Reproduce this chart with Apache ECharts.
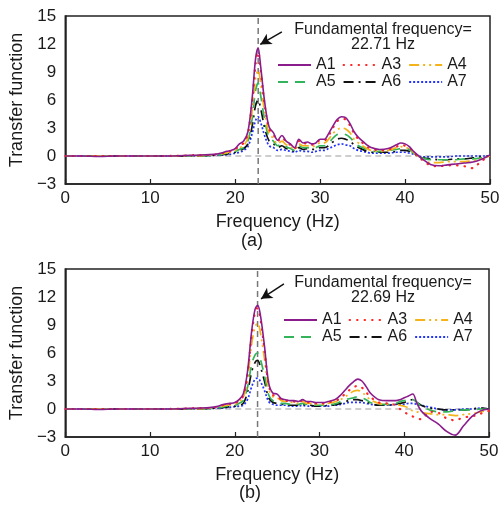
<!DOCTYPE html>
<html><head><meta charset="utf-8">
<script src="https://cdn.jsdelivr.net/npm/echarts@6/dist/echarts.min.js"></script>
<style>html,body{margin:0;padding:0;background:#fff}#c{width:503px;height:511px}</style>
</head><body><div id="c"></div>
<script>
const FREQ = [0,2,4,6,8,10,12,14,16,17,18,18.5,19,19.5,20,20.5,21,21.5,22,22.4,22.7,23,23.5,24,24.5,25,25.5,26,26.5,27,27.5,28,28.5,29,29.5,30,30.5,31,31.5,32,32.5,33,33.5,34,34.5,35,35.5,36,37,38,39,39.5,40,40.5,41,41.5,42,43,44,45,46,47,48,49,50];

// Chart (a)
const A1a = [0,0,-0.05,0,0,0,0,0.05,0.1,0.15,0.25,0.35,0.5,0.6,0.8,1.3,1.6,2.6,6.2,10.4,11.6,9.6,5.6,3.1,2.5,1.7,2.2,1.6,1.3,0.9,1.8,1.4,1.5,1.3,1.4,1.8,1.8,2.4,3.2,3.9,4.2,4.1,3.5,2.6,2.0,1.6,1.2,0.9,0.7,0.8,1.2,1.4,1.3,1.0,0.5,0.1,-0.3,-0.9,-1.05,-0.95,-0.85,-0.75,-0.65,-0.35,0.1];
const A3a = [0,0,0,0,0,0,0,0.05,0.1,0.1,0.2,0.3,0.45,0.5,0.7,1.1,1.4,2.4,5.8,9.8,11.1,9.2,5.3,2.9,2.3,1.6,2.0,1.5,1.2,0.8,1.6,1.3,1.4,1.2,1.3,1.7,1.7,2.2,3.0,3.7,4.0,3.9,3.3,2.4,1.8,1.4,1.0,0.8,0.6,0.7,1.0,1.2,1.1,0.9,0.4,0.0,-0.4,-1.0,-1.1,-1.0,-1.0,-1.1,-1.3,-0.5,-0.2];
const A4a = [0,0,0,0,0,0,0,0.05,0.05,0.1,0.2,0.25,0.35,0.45,0.6,0.9,1.1,2.0,4.8,8.3,9.2,7.8,4.5,2.4,1.9,1.3,1.6,1.2,1.0,0.7,1.3,1.1,1.1,1.0,1.1,1.4,1.4,1.8,2.4,2.8,3.0,2.9,2.5,1.8,1.4,1.1,0.8,0.6,0.5,0.6,0.9,1.0,0.9,0.8,0.4,0.0,-0.3,-0.7,-0.7,-0.6,-0.6,-0.6,-0.5,-0.3,0.0];
const A5a = [0,0,0,0,0,0,0,0,0.05,0.05,0.1,0.2,0.3,0.35,0.5,0.7,0.9,1.6,4.0,7.0,7.8,6.5,3.7,2.0,1.6,1.1,1.3,1.0,0.8,0.6,1.1,0.9,0.9,0.8,0.9,1.1,1.1,1.4,1.9,2.3,2.4,2.3,2.0,1.5,1.1,0.9,0.7,0.5,0.5,0.6,0.7,0.8,0.8,0.7,0.3,0.0,-0.2,-0.4,-0.4,-0.4,-0.4,-0.3,-0.3,-0.2,0.0];
const A6a = [0,0,0,0,0,0,0,0,0.05,0.05,0.1,0.15,0.2,0.3,0.4,0.6,0.8,1.3,3.2,5.4,6.0,5.1,2.9,1.6,1.3,0.9,1.1,0.8,0.7,0.5,0.9,0.7,0.8,0.7,0.7,0.9,0.9,1.1,1.5,1.8,1.9,1.8,1.6,1.2,0.9,0.7,0.5,0.4,0.4,0.4,0.5,0.6,0.6,0.5,0.3,0.0,-0.2,-0.3,-0.4,-0.4,-0.3,-0.3,-0.2,-0.1,0.0];
const A7a = [0,0,0,0,0,0,0,0,0,0.05,0.1,0.1,0.15,0.2,0.3,0.4,0.6,1.0,2.4,3.8,4.2,3.6,2.1,1.1,0.9,0.6,0.7,0.6,0.5,0.4,0.6,0.5,0.5,0.4,0.5,0.6,0.6,0.8,1.0,1.2,1.3,1.2,1.1,0.8,0.6,0.5,0.4,0.3,0.3,0.3,0.4,0.4,0.4,0.3,0.2,0.0,-0.1,-0.1,-0.1,-0.1,0.0,0.0,0.0,0.0,0.0];

// Chart (b)
const A1b = [0,0,-0.05,0,0,0,0,0.05,0.1,0.15,0.3,0.45,0.55,0.6,0.7,1.0,1.6,4.0,8.4,10.7,11.1,10.2,6.8,2.8,1.7,1.6,1.1,1.0,0.9,0.9,0.8,1.0,0.8,0.8,0.7,0.7,0.7,0.8,0.9,1.1,1.5,2.0,2.5,2.9,3.2,3.0,2.4,1.7,1.0,0.9,0.9,1.0,1.2,1.4,1.6,0.6,-0.2,-1.0,-1.6,-2.4,-2.8,-1.8,-0.8,-0.2,0.0];
const A3b = [0,0,0,0,0,0,0,0.05,0.1,0.1,0.25,0.4,0.5,0.55,0.6,0.9,1.4,3.7,8.0,10.4,10.8,9.8,6.4,2.6,1.5,1.4,1.0,0.9,0.8,0.8,0.7,0.9,0.7,0.7,0.6,0.6,0.6,0.7,0.8,0.9,1.2,1.6,2.0,2.3,2.5,2.3,1.8,1.3,0.7,0.6,0.4,0.0,-0.3,-0.6,-0.8,-1.0,-1.1,-0.3,-0.4,-1.0,-1.2,-0.9,-0.8,-0.5,-0.2];
const A4b = [0,0,0,0,0,0,0,0.05,0.05,0.1,0.2,0.3,0.4,0.45,0.5,0.8,1.2,3.2,7.0,8.8,9.2,8.3,5.4,2.2,1.3,1.2,0.9,0.8,0.7,0.7,0.6,0.8,0.6,0.6,0.5,0.5,0.5,0.6,0.7,0.8,1.0,1.3,1.6,1.9,2.0,1.8,1.4,1.0,0.6,0.5,0.5,0.4,0.3,0.1,-0.2,-0.3,-0.4,-0.5,-0.6,-0.6,-0.7,-0.6,-0.5,-0.3,-0.1];
const A5b = [0,0,0,0,0,0,0,0,0.05,0.05,0.15,0.2,0.3,0.35,0.4,0.6,0.9,2.3,4.8,5.8,6.0,5.4,3.6,1.5,0.9,0.8,0.6,0.6,0.5,0.5,0.5,0.6,0.5,0.5,0.4,0.4,0.4,0.5,0.5,0.6,0.8,1.0,1.1,1.2,1.3,1.2,1.0,0.7,0.5,0.5,0.6,0.8,0.9,1.0,1.0,0.7,0.3,-0.1,-0.3,-0.3,-0.2,-0.1,-0.1,0.0,0.0];
const A6b = [0,0,0,0,0,0,0,0,0.05,0.05,0.1,0.15,0.2,0.25,0.3,0.4,0.6,1.8,4.0,5.0,5.2,4.6,3.0,1.2,0.7,0.6,0.5,0.5,0.4,0.4,0.4,0.5,0.4,0.4,0.3,0.3,0.3,0.4,0.4,0.5,0.6,0.8,0.9,1.0,1.0,0.9,0.8,0.6,0.4,0.4,0.5,0.6,0.7,0.9,1.0,0.7,0.4,0.1,0.0,-0.1,-0.1,-0.1,0.0,0.1,0.0];
const A7b = [0,0,0,0,0,0,0,0,0,0.05,0.1,0.1,0.15,0.2,0.25,0.3,0.4,1.0,2.4,3.2,3.3,3.0,2.0,0.8,0.5,0.4,0.4,0.4,0.3,0.3,0.3,0.4,0.3,0.3,0.3,0.3,0.3,0.3,0.4,0.4,0.5,0.6,0.7,0.7,0.7,0.7,0.6,0.5,0.4,0.4,0.5,0.5,0.5,0.6,0.6,0.5,0.4,0.2,0.0,-0.1,-0.1,0.0,0.0,0.1,0.0];

const NAMES = ['A1','A3','A4','A5','A6','A7'];
const FUND = [22.71, 22.69];
const FUND_LABELS = ['22.71 Hz','22.69 Hz'];
const PANEL_LABELS = ['(a)','(b)'];

const DATA = [[A1a,A3a,A4a,A5a,A6a,A7a],[A1b,A3b,A4b,A5b,A6b,A7b]];
const STYLES = [
  {color:'#8B1C8C', type:'solid', width:1.6},
  {color:'#FF2626', type:[0.5,7], width:2.2, cap:'round'},
  {color:'#F5B31A', type:[10,4,2,4,2,4], width:1.7},
  {color:'#33B35A', type:[10,7], width:1.7},
  {color:'#111111', type:[10,5,2,5], width:1.7},
  {color:'#2233FF', type:[2,2], width:1.7}
];
const FONT = '"Liberation Sans", Arial, sans-serif';
const TXT = '#1a1a1a';

const grids = [
  {left:62, right:13, top:16, height:168},
  {left:60, right:14, top:269, height:168}
];
const arrows = [
  [[25.5,13.3],[22.95,11.95]],
  [[25.8,13.4],[23.1,11.8]]
];

const series = [];
for (let g=0; g<2; g++){
  series.push({type:'line', xAxisIndex:g, yAxisIndex:g, data:[[0,0],[50,0]], symbol:'none', silent:true,
    lineStyle:{color:'#bdbdbd', type:[6,4], width:1.5}, z:1});
  series.push({type:'line', xAxisIndex:g, yAxisIndex:g, data:[[FUND[g],-3],[FUND[g],15]], symbol:'none', silent:true,
    lineStyle:{color:'#777', type:[6,4], width:1.5}, z:1,
    markLine:{silent:true, symbol:['none','arrow'], symbolSize:[9,11], label:{show:false},
      lineStyle:{color:'#111', type:'solid', width:1.5},
      data:[[{coord:arrows[g][0]},{coord:arrows[g][1]}]]}});
  DATA[g].forEach((arr,k)=>{
    const s = STYLES[k];
    series.push({name:NAMES[k], type:'line', xAxisIndex:g, yAxisIndex:g,
      data: FREQ.map((f,i)=>[f,arr[i]]), symbol:'none', smooth:0.35,
      lineStyle:{color:s.color, type:s.type, width:s.width, cap:s.cap||'butt'},
      itemStyle:{color:s.color}, z:10-k});
  });
}

const xAxes = grids.map((gr,g)=>({type:'value', gridIndex:g, min:0, max:50, interval:10,
  name:'Frequency (Hz)', nameLocation:'middle', nameGap:29,
  nameTextStyle:{fontSize:18, color:TXT, fontFamily:FONT},
  axisLine:{show:true, onZero:false, lineStyle:{color:'#222', width:1.5}},
  axisTick:{show:true, inside:true, length:5, lineStyle:{color:'#222', width:1.2}},
  axisLabel:{fontSize:17, color:TXT, fontFamily:FONT, margin:6},
  splitLine:{show:false}}));
const yAxes = grids.map((gr,g)=>({type:'value', gridIndex:g, min:-3, max:15, interval:3,
  name:'Transfer function', nameLocation:'middle', nameGap:30, nameRotate:90,
  nameTextStyle:{fontSize:18, color:TXT, fontFamily:FONT},
  axisLine:{show:true, onZero:false, lineStyle:{color:'#222', width:1.5}},
  axisTick:{show:false},
  axisLabel:{fontSize:17, color:TXT, fontFamily:FONT, margin:9,
    formatter:v=>String(v).replace('-','\u2212')},
  splitLine:{show:false}}));

const legendBase = {orient:'horizontal', itemWidth:33, itemHeight:12, itemGap:7, padding:0,
  itemStyle:{opacity:0}, lineStyle:{opacity:1},
  textStyle:{fontSize:16, color:TXT, fontFamily:FONT}, selectedMode:false};
const legends = [
  Object.assign({}, legendBase, {left:277, top:57, data:['A1','A3','A4']}),
  Object.assign({}, legendBase, {left:277, top:74, data:['A5','A6','A7']}),
  Object.assign({}, legendBase, {left:283, top:312, data:['A1','A3','A4']}),
  Object.assign({}, legendBase, {left:283, top:329, data:['A5','A6','A7']})
];

const textEl = (t,x,y,size)=>({type:'text', x:x, y:y, silent:true,
  style:{text:t, fill:TXT, font:size+'px '+FONT, align:'center', verticalAlign:'middle'}});
const graphic = [
  textEl('Fundamental frequency=',383,30,16), textEl(FUND_LABELS[0],383,45,16),
  textEl('Fundamental frequency=',383,283,16), textEl(FUND_LABELS[1],383,298,16),
  textEl(PANEL_LABELS[0],252,241,18), textEl(PANEL_LABELS[1],250,493,18)
];

const chart = echarts.init(document.getElementById('c'), null, {renderer:'canvas'});
chart.setOption({
  animation:false, backgroundColor:'#fff',
  grid: grids.map(gr=>Object.assign({show:true, borderColor:'#222', borderWidth:1.5, backgroundColor:'transparent'}, gr)),
  xAxis:xAxes, yAxis:yAxes, legend:legends, series:series, graphic:graphic
});
</script></body></html>
